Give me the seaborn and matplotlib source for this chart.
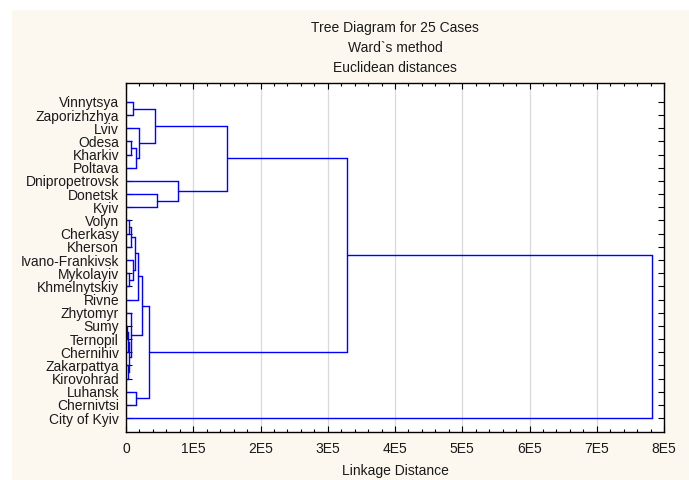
import pandas as pd
import matplotlib.pyplot as plt
import seaborn as sns
from matplotlib.patches import Rectangle
from matplotlib.ticker import MultipleLocator, FuncFormatter

# Cases in dendrogram order (top to bottom)
cases = ['Vinnytsya', 'Zaporizhzhya', 'Lviv', 'Odesa', 'Kharkiv', 'Poltava',
         'Dnipropetrovsk', 'Donetsk', 'Kyiv', 'Volyn', 'Cherkasy', 'Kherson',
         'Ivano-Frankivsk', 'Mykolayiv', 'Khmelnytskiy', 'Rivne', 'Zhytomyr',
         'Sumy', 'Ternopil', 'Chernihiv', 'Zakarpattya', 'Kirovohrad',
         'Luhansk', 'Chernivtsi', 'City of Kyiv']

# Ward linkage steps: cluster ids 0..24 are cases, new clusters get 25, 26, ...
merge_a = [17, 25, 20, 26, 16, 9, 30, 13, 12, 31, 34, 35, 22, 36,
           0, 3, 40, 2, 39, 7, 6, 43, 46, 47]
merge_b = [18, 19, 21, 27, 28, 10, 11, 14, 32, 33, 15, 29, 23, 37,
           1, 4, 5, 41, 42, 8, 44, 45, 38, 24]
merge_dist = [1500, 3000, 2500, 4500, 8000, 4000, 7000, 4000, 10000, 13500,
              18300, 23300, 15000, 34500, 10000, 8000, 15000, 20000, 43000,
              46500, 78000, 150000, 328000, 782000]

# build the dendrogram segments
ypos = list(range(len(cases)))
xpos = [0] * len(cases)
rows = []
seg = 0
for a, b, d in zip(merge_a, merge_b, merge_dist):
    for child in (a, b):
        rows += [(seg, xpos[child], ypos[child]), (seg, d, ypos[child])]
        seg += 1
    rows += [(seg, d, ypos[a]), (seg, d, ypos[b])]
    seg += 1
    ypos.append((ypos[a] + ypos[b]) / 2)
    xpos.append(d)
df = pd.DataFrame(rows, columns=['seg', 'x', 'y'])

sns.set_style('white')
plt.rcParams['font.family'] = ['Liberation Sans', 'DejaVu Sans']

fig = plt.figure(figsize=(6.89, 4.8), dpi=100, facecolor='white')
fig.patches.append(Rectangle((12 / 689, 0), 1, 1 - 10 / 480, transform=fig.transFigure,
                             facecolor='#fcf8ef', edgecolor='none', zorder=-1))
ax = fig.add_axes([126 / 689, 48 / 480, 538 / 689, 349 / 480])
ax.set_facecolor('white')

sns.lineplot(data=df, x='x', y='y', units='seg', estimator=None, sort=False,
             color='#0000ff', linewidth=1, ax=ax)

ax.set_xlim(0, 8e5)
ax.set_ylim(25.06, -1.44)
ax.set_yticks(range(len(cases)))
ax.set_yticklabels(cases)
ax.xaxis.set_major_locator(MultipleLocator(1e5))
ax.xaxis.set_minor_locator(MultipleLocator(2e4))
ax.xaxis.set_major_formatter(FuncFormatter(lambda v, p: '0' if v == 0 else f'{int(round(v / 1e5))}E5'))

ax.tick_params(which='both', direction='in', bottom=True, top=True, left=True, right=True,
               colors='black', labelsize=10, labelcolor='#1a1a1a', width=0.8)
ax.tick_params(which='major', length=4)
ax.tick_params(which='minor', length=2)
ax.tick_params(axis='x', pad=7)
ax.tick_params(axis='y', pad=5)

ax.grid(axis='x', color='#d9d9d9', linewidth=0.9)
ax.set_axisbelow(True)
for s in ax.spines.values():
    s.set_color('black')
    s.set_linewidth(1)

ax.set_title('Tree Diagram for 25 Cases\nWard`s method\nEuclidean distances',
             fontsize=10, linespacing=1.55, pad=8, color='#1a1a1a')
ax.set_xlabel('Linkage Distance', fontsize=10, labelpad=6, color='#1a1a1a')
ax.set_ylabel('')

fig.savefig('out.png', dpi=100)
